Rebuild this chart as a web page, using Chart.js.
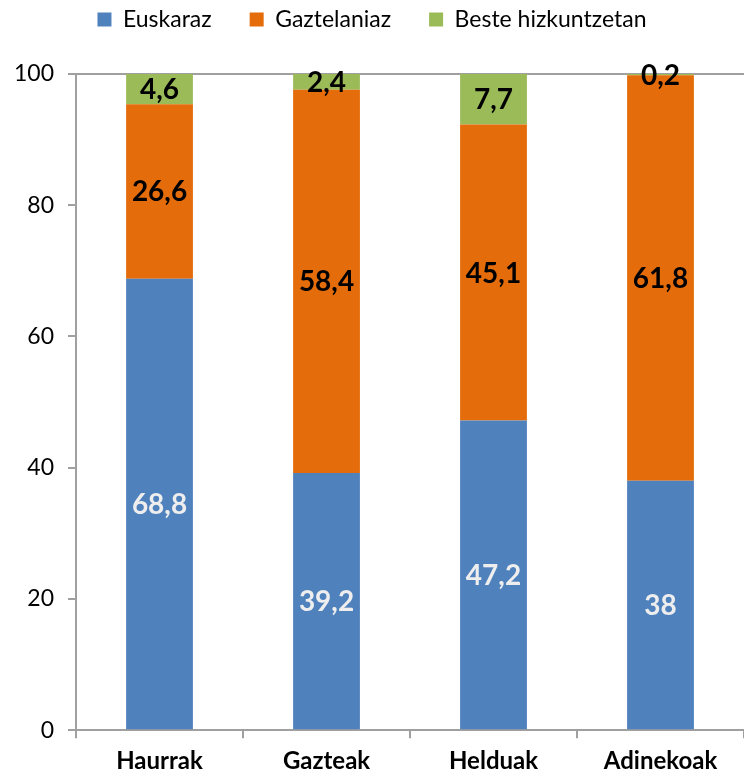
<!DOCTYPE html>
<html lang="eu">
<head>
<meta charset="UTF-8">
<title>Hizkuntza adinaren arabera</title>
<script src="https://cdn.jsdelivr.net/npm/chart.js"></script>
<style>
  html, body { margin: 0; padding: 0; background: #fff; }
  #wrap { width: 744px; height: 776px; position: relative; }
</style>
</head>
<body>
<div id="wrap"><canvas id="chart"></canvas></div>
<script>
// data
const categories = ['Haurrak', 'Gazteak', 'Helduak', 'Adinekoak'];
const euskaraz = [68.8, 39.2, 47.2, 38];
const gaztelaniaz = [26.6, 58.4, 45.1, 61.8];
const besteHizkuntzetan = [4.6, 2.4, 7.7, 0.2];
const yTicks = [0, 20, 40, 60, 80, 100];

const FONT = 'Lato, "Open Sans", sans-serif';

// draws the value inside each bar segment
const segmentLabels = {
    id: 'segmentLabels',
    afterDatasetsDraw(chart) {
        const ctx = chart.ctx;
        ctx.save();
        ctx.font = 'bold 28px ' + FONT;
        ctx.textAlign = 'center';
        ctx.textBaseline = 'middle';
        chart.data.datasets.forEach((ds, i) => {
            const meta = chart.getDatasetMeta(i);
            meta.data.forEach((bar, j) => {
                const txt = String(ds.data[j]).replace('.', ',');
                ctx.fillStyle = ds.labelColor;
                ctx.fillText(txt, bar.x, (bar.y + bar.base) / 2 + 1);
            });
        });
        ctx.restore();
    }
};

// extra room under the legend
const legendGap = {
    id: 'legendGap',
    beforeInit(chart) {
        const fit = chart.legend.fit;
        chart.legend.fit = function () {
            fit.call(this);
            this.height += 33;
        };
    }
};

new Chart(document.getElementById('chart'), {
    type: 'bar',
    data: {
        labels: categories,
        datasets: [
            { label: 'Euskaraz', data: euskaraz, backgroundColor: '#4F81BD', labelColor: '#EEEEEE' },
            { label: 'Gaztelaniaz', data: gaztelaniaz, backgroundColor: '#E46C0A', labelColor: '#000' },
            { label: 'Beste hizkuntzetan', data: besteHizkuntzetan, backgroundColor: '#9BBB59', labelColor: '#000' }
        ]
    },
    options: {
        responsive: true,
        maintainAspectRatio: false,
        animation: false,
        datasets: { bar: { barPercentage: 0.4, categoryPercentage: 1 } },
        layout: { padding: { left: 0, right: 0, top: -30, bottom: -9 } },
        plugins: {
            tooltip: { enabled: false },
            legend: {
                position: 'top',
                labels: {
                    boxWidth: 14, boxHeight: 14, padding: 38,
                    color: '#000',
                    font: { family: FONT, size: 23 }
                }
            }
        },
        scales: {
            x: {
                stacked: true,
                border: { color: '#A0A0A0', width: 2 },
                grid: { drawOnChartArea: false, tickLength: 8, color: '#A0A0A0', lineWidth: 2 },
                ticks: { color: '#000', padding: 9, font: { family: FONT, size: 24, weight: 'bold' } }
            },
            y: {
                stacked: true,
                min: 0, max: 100,
                afterBuildTicks(axis) { axis.ticks = yTicks.map(v => ({ value: v })); },
                border: { color: '#A0A0A0', width: 2 },
                grid: {
                    color: ctx => ctx.tick && ctx.tick.value === 100 ? '#A0A0A0' : 'rgba(0,0,0,0)',
                    tickColor: '#A0A0A0',
                    lineWidth: 2,
                    tickLength: 8
                },
                ticks: { color: '#000', padding: 14, font: { family: FONT, size: 23 } }
            }
        }
    },
    plugins: [legendGap, segmentLabels]
});
</script>
</body>
</html>
